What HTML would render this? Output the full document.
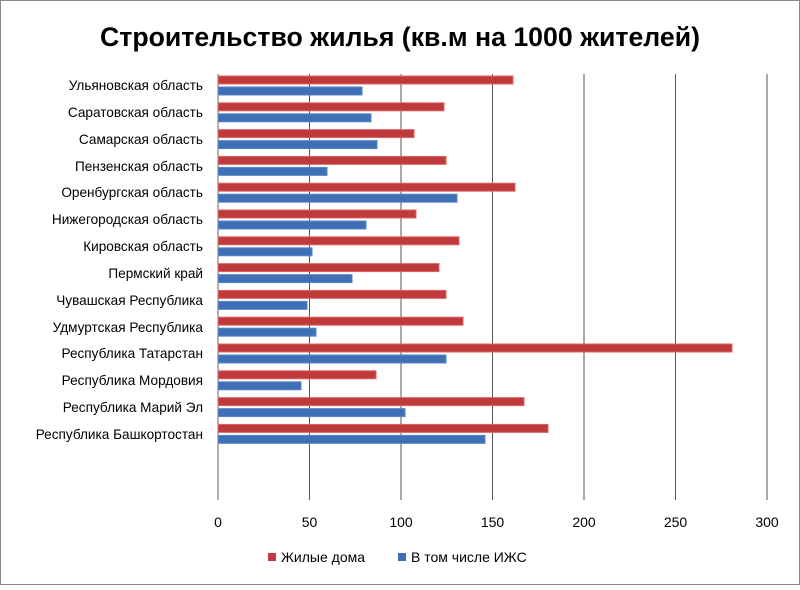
<!DOCTYPE html><html><head><meta charset="utf-8"><style>
body{margin:0;background:#fff}
</style></head><body>
<svg width="800" height="585" xmlns="http://www.w3.org/2000/svg" font-family="Liberation Sans, sans-serif">
<rect x="0.5" y="0.5" width="799" height="584" fill="#fff" stroke="#888"/>
<text x="400" y="46" text-anchor="middle" font-size="27" font-weight="bold" textLength="600" lengthAdjust="spacingAndGlyphs">Строительство жилья (кв.м на 1000 жителей)</text>
<g stroke="#555" stroke-width="1">
<line x1="309.5" y1="74" x2="309.5" y2="500"/><line x1="401" y1="74" x2="401" y2="500"/>
<line x1="492.5" y1="74" x2="492.5" y2="500"/><line x1="584" y1="74" x2="584" y2="500"/>
<line x1="675.5" y1="74" x2="675.5" y2="500"/><line x1="767" y1="74" x2="767" y2="500"/>
</g>
<line x1="218" y1="74" x2="218" y2="500" stroke="#666"/>
<g font-size="14" text-anchor="middle" fill="#000">
<text x="218" y="527">0</text><text x="309.5" y="527">50</text><text x="401" y="527">100</text><text x="492.5" y="527">150</text><text x="584" y="527">200</text><text x="675.5" y="527">250</text><text x="767" y="527">300</text>
</g>
<g font-size="13.6" text-anchor="end" fill="#000">
<text x="203" y="90">Ульяновская область</text>
<text x="203" y="117">Саратовская область</text>
<text x="203" y="144">Самарская область</text>
<text x="203" y="171">Пензенская область</text>
<text x="203" y="197">Оренбургская область</text>
<text x="203" y="224">Нижегородская область</text>
<text x="203" y="251">Кировская область</text>
<text x="203" y="278">Пермский край</text>
<text x="203" y="305">Чувашская Республика</text>
<text x="203" y="332">Удмуртская Республика</text>
<text x="203" y="358">Республика Татарстан</text>
<text x="203" y="385">Республика Мордовия</text>
<text x="203" y="412">Республика  Марий Эл</text>
<text x="203" y="439">Республика Башкортостан</text>
</g>
<g stroke-width="1">
<rect x="218" y="76" width="295" height="8" fill="#c0393b" stroke="#d66"/><rect x="218" y="87" width="144" height="8" fill="#3f6fb5" stroke="#5a86c6"/>
<rect x="218" y="102.8" width="226" height="8" fill="#c0393b" stroke="#d66"/><rect x="218" y="113.8" width="153" height="8" fill="#3f6fb5" stroke="#5a86c6"/>
<rect x="218" y="129.6" width="196" height="8" fill="#c0393b" stroke="#d66"/><rect x="218" y="140.6" width="159" height="8" fill="#3f6fb5" stroke="#5a86c6"/>
<rect x="218" y="156.4" width="228" height="8" fill="#c0393b" stroke="#d66"/><rect x="218" y="167.4" width="109" height="8" fill="#3f6fb5" stroke="#5a86c6"/>
<rect x="218" y="183.2" width="297" height="8" fill="#c0393b" stroke="#d66"/><rect x="218" y="194.2" width="239" height="8" fill="#3f6fb5" stroke="#5a86c6"/>
<rect x="218" y="210" width="198" height="8" fill="#c0393b" stroke="#d66"/><rect x="218" y="221" width="148" height="8" fill="#3f6fb5" stroke="#5a86c6"/>
<rect x="218" y="236.8" width="241" height="8" fill="#c0393b" stroke="#d66"/><rect x="218" y="247.8" width="94" height="8" fill="#3f6fb5" stroke="#5a86c6"/>
<rect x="218" y="263.6" width="221" height="8" fill="#c0393b" stroke="#d66"/><rect x="218" y="274.6" width="134" height="8" fill="#3f6fb5" stroke="#5a86c6"/>
<rect x="218" y="290.4" width="228" height="8" fill="#c0393b" stroke="#d66"/><rect x="218" y="301.4" width="89" height="8" fill="#3f6fb5" stroke="#5a86c6"/>
<rect x="218" y="317.2" width="245" height="8" fill="#c0393b" stroke="#d66"/><rect x="218" y="328.2" width="98" height="8" fill="#3f6fb5" stroke="#5a86c6"/>
<rect x="218" y="344" width="514" height="8" fill="#c0393b" stroke="#d66"/><rect x="218" y="355" width="228" height="8" fill="#3f6fb5" stroke="#5a86c6"/>
<rect x="218" y="370.8" width="158" height="8" fill="#c0393b" stroke="#d66"/><rect x="218" y="381.8" width="83" height="8" fill="#3f6fb5" stroke="#5a86c6"/>
<rect x="218" y="397.6" width="306" height="8" fill="#c0393b" stroke="#d66"/><rect x="218" y="408.6" width="187" height="8" fill="#3f6fb5" stroke="#5a86c6"/>
<rect x="218" y="424.4" width="330" height="8" fill="#c0393b" stroke="#d66"/><rect x="218" y="435.4" width="267" height="8" fill="#3f6fb5" stroke="#5a86c6"/>
</g>
<rect x="268" y="553" width="8" height="8" fill="#c0393b"/>
<text x="281" y="562" font-size="14">Жилые дома</text>
<rect x="398" y="553" width="8" height="8" fill="#3f6fb5"/>
<text x="411" y="562" font-size="14">В том числе ИЖС</text>
</svg>
</body></html>
